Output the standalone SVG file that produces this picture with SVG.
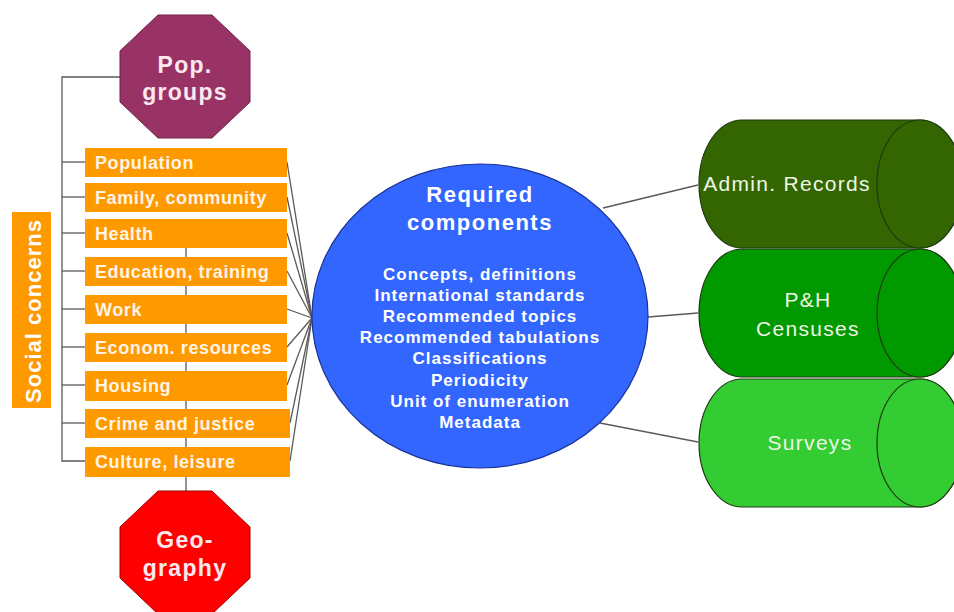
<svg xmlns="http://www.w3.org/2000/svg" width="954" height="612" viewBox="0 0 954 612">
<style>
.ln{stroke:#5a5a5a;stroke-width:1.3;fill:none}
.box{fill:#ff9900}
.bt{font-family:"Liberation Sans",Arial,sans-serif;font-weight:bold;font-size:18px;letter-spacing:0.6px;fill:#fff4e6}
.oct{font-family:"Liberation Sans",Arial,sans-serif;font-weight:bold;font-size:23px;letter-spacing:1.3px;fill:#fbe9ee;text-anchor:middle}
.ct{font-family:"Liberation Sans",Arial,sans-serif;font-weight:bold;fill:#ffffff;text-anchor:middle}
.cy{font-family:"Liberation Sans",Arial,sans-serif;font-size:21px;letter-spacing:1.3px;fill:#eef7e6;text-anchor:middle}
.cyl{stroke:#1e3a10;stroke-width:1.2}
</style>
<rect width="954" height="612" fill="#ffffff"/>
<g id="connectors">
<polyline class="ln" points="120,77 62,77 62,461 85,461"/>
<line class="ln" x1="62" y1="162" x2="85" y2="162"/>
<line class="ln" x1="62" y1="197" x2="85" y2="197"/>
<line class="ln" x1="62" y1="233" x2="85" y2="233"/>
<line class="ln" x1="62" y1="271" x2="85" y2="271"/>
<line class="ln" x1="62" y1="309" x2="85" y2="309"/>
<line class="ln" x1="62" y1="347" x2="85" y2="347"/>
<line class="ln" x1="62" y1="385" x2="85" y2="385"/>
<line class="ln" x1="62" y1="423" x2="85" y2="423"/>
<line class="ln" x1="186" y1="248" x2="186" y2="492"/>
<line class="ln" x1="287" y1="162" x2="312" y2="318"/>
<line class="ln" x1="287" y1="197" x2="312" y2="318"/>
<line class="ln" x1="287" y1="233" x2="312" y2="318"/>
<line class="ln" x1="287" y1="271" x2="312" y2="318"/>
<line class="ln" x1="287" y1="309" x2="312" y2="318"/>
<line class="ln" x1="287" y1="347" x2="312" y2="318"/>
<line class="ln" x1="287" y1="385" x2="312" y2="318"/>
<line class="ln" x1="290" y1="423" x2="312" y2="318"/>
<line class="ln" x1="290" y1="461" x2="312" y2="318"/>
<line class="ln" x1="603" y1="208" x2="698" y2="185"/>
<line class="ln" x1="648" y1="317" x2="698" y2="313"/>
<line class="ln" x1="600" y1="423" x2="698" y2="442"/>
</g>
<g id="social-concerns">
<rect class="box" x="12" y="212" width="39" height="196"/>
<text class="ct" transform="translate(41,311) rotate(-90)" font-size="22" letter-spacing="1" fill="#fff4e6">Social concerns</text>
</g>
<g id="pop-groups">
<polygon points="158,15 212,15 250,51 250,102 212,138 158,138 120,102 120,51" fill="#993366" stroke="#6e2348" stroke-width="1"/>
<text class="oct" x="185" y="73">Pop.</text>
<text class="oct" x="185" y="100">groups</text>
</g>
<g id="geography">
<polygon points="158,491 212,491 250,527 250,578 212,614 158,614 120,578 120,527" fill="#ff0000" stroke="#a00000" stroke-width="1"/>
<text class="oct" x="185" y="548">Geo-</text>
<text class="oct" x="185" y="576">graphy</text>
</g>
<g id="population"><rect class="box" x="85" y="148" width="202" height="29"/><text class="bt" x="95" y="169">Population</text></g>
<g id="family"><rect class="box" x="85" y="183" width="202" height="29"/><text class="bt" x="95" y="204">Family, community</text></g>
<g id="health"><rect class="box" x="85" y="219" width="202" height="29"/><text class="bt" x="95" y="240">Health</text></g>
<g id="education"><rect class="box" x="85" y="257" width="202" height="29"/><text class="bt" x="95" y="278">Education, training</text></g>
<g id="work"><rect class="box" x="85" y="295" width="202" height="29"/><text class="bt" x="95" y="316">Work</text></g>
<g id="econom"><rect class="box" x="85" y="333" width="202" height="29"/><text class="bt" x="95" y="354">Econom. resources</text></g>
<g id="housing"><rect class="box" x="85" y="371" width="202" height="30"/><text class="bt" x="95" y="392">Housing</text></g>
<g id="crime"><rect class="box" x="85" y="409" width="205" height="29"/><text class="bt" x="95" y="430">Crime and justice</text></g>
<g id="culture"><rect class="box" x="85" y="447" width="205" height="30"/><text class="bt" x="95" y="468">Culture, leisure</text></g>
<g id="required-components">
<ellipse cx="480" cy="316" rx="168" ry="152" fill="#3366ff" stroke="#1a3399" stroke-width="1.2"/>
<text class="ct" x="480" y="202" font-size="22" letter-spacing="1.5">Required</text>
<text class="ct" x="480" y="230" font-size="22" letter-spacing="1.5">components</text>
<g font-size="17" letter-spacing="1">
<text class="ct" x="480" y="280">Concepts, definitions</text>
<text class="ct" x="480" y="301">International standards</text>
<text class="ct" x="480" y="322">Recommended topics</text>
<text class="ct" x="480" y="343">Recommended tabulations</text>
<text class="ct" x="480" y="364">Classifications</text>
<text class="ct" x="480" y="386">Periodicity</text>
<text class="ct" x="480" y="407">Unit of enumeration</text>
<text class="ct" x="480" y="428">Metadata</text>
</g>
</g>
<g id="admin-records">
<path class="cyl" d="M742,120 L920,120 A43,64 0 0 1 920,248 L742,248 A43,64 0 0 1 742,120 Z" fill="#336600"/>
<ellipse class="cyl" cx="920" cy="184" rx="43" ry="64" fill="#336600"/>
<text class="cy" x="787" y="191">Admin. Records</text>
</g>
<g id="ph-censuses">
<path class="cyl" d="M742,249 L920,249 A43,64 0 0 1 920,377 L742,377 A43,64 0 0 1 742,249 Z" fill="#009900"/>
<ellipse class="cyl" cx="920" cy="313" rx="43" ry="64" fill="#009900"/>
<text class="cy" x="808" y="307">P&amp;H</text>
<text class="cy" x="808" y="336">Censuses</text>
</g>
<g id="surveys">
<path class="cyl" d="M742,379 L920,379 A43,64 0 0 1 920,507 L742,507 A43,64 0 0 1 742,379 Z" fill="#33cc33"/>
<ellipse class="cyl" cx="920" cy="443" rx="43" ry="64" fill="#33cc33"/>
<text class="cy" x="810" y="450">Surveys</text>
</g>
</svg>
